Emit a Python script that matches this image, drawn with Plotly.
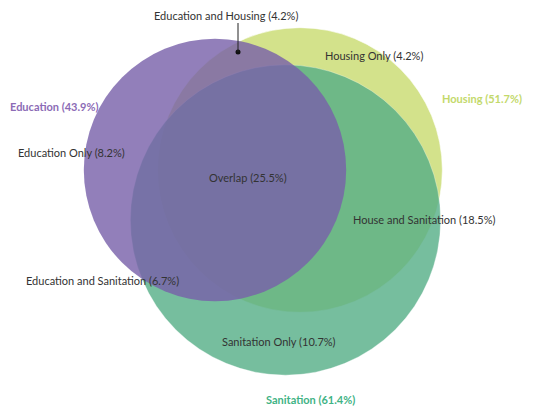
import math
import plotly.graph_objects as go

# Sets and their share of respondents (%)
set_names = ["Housing", "Sanitation", "Education"]
set_values = [51.7, 61.4, 43.9]
set_colors = ["#C9DC6F", "#55AE87", "#7860AA"]
outline_colors = ["rgba(255,255,255,0.6)", "rgba(255,255,255,0.35)", "rgba(0,0,0,0)"]
label_colors = ["#C3D96B", "#3FB385", "#8C6BB6"]

# Region labels and their shares (%)
region_names = ["Education Only", "Housing Only", "Sanitation Only",
                "Education and Housing", "Education and Sanitation",
                "House and Sanitation", "Overlap"]
region_values = [8.2, 4.2, 10.7, 4.2, 6.7, 18.5, 25.5]

# Layout of the diagram (plot units = pixels)
W, H = 535, 407
centers = {"Housing": (300, 170), "Sanitation": (285.5, 220), "Education": (215, 170)}
area_scale = 19.8  # radius = scale * sqrt(share)

set_label_pos = {"Housing": (482, 98), "Sanitation": (310, 399), "Education": (54, 106)}
region_label_pos = {
    "Education Only": (71.5, 152),
    "Housing Only": (374, 55),
    "Sanitation Only": (279, 341),
    "Education and Housing": (226, 15),
    "Education and Sanitation": (102, 280),
    "House and Sanitation": (424, 219),
    "Overlap": (248, 177),
}
pointer_target = (238, 52)

fig = go.Figure()
shapes = []
for name, val, col, oc in zip(set_names, set_values, set_colors, outline_colors):
    cx, cy = centers[name]
    r = area_scale * math.sqrt(val)
    shapes.append(dict(type="circle", xref="x", yref="y",
                       x0=cx - r, x1=cx + r, y0=cy - r, y1=cy + r,
                       fillcolor=col, opacity=0.8,
                       line=dict(color=oc, width=1),
                       layer="below"))

# Leader line for the small Education/Housing region
lx, ly = region_label_pos["Education and Housing"]
shapes.append(dict(type="line", xref="x", yref="y",
                   x0=pointer_target[0], x1=pointer_target[0], y0=ly + 8, y1=pointer_target[1],
                   line=dict(color="#222", width=1)))
fig.add_trace(go.Scatter(x=[pointer_target[0]], y=[pointer_target[1]], mode="markers",
                         marker=dict(color="#111", size=5), hoverinfo="skip", showlegend=False))

annotations = []
for name, val, col in zip(set_names, set_values, label_colors):
    x, y = set_label_pos[name]
    annotations.append(dict(x=x, y=y, xref="x", yref="y", showarrow=False,
                            text=f"<b>{name} ({val}%)</b>",
                            font=dict(family="Lato", size=11, color=col)))
for name, val in zip(region_names, region_values):
    x, y = region_label_pos[name]
    annotations.append(dict(x=x, y=y, xref="x", yref="y", showarrow=False,
                            text=f"{name} ({val}%)",
                            font=dict(family="Lato", size=11, color="#333333")))

fig.update_layout(
    width=W, height=H,
    margin=dict(l=0, r=0, t=0, b=0),
    paper_bgcolor="white", plot_bgcolor="white",
    shapes=shapes, annotations=annotations,
    xaxis=dict(range=[0, W], visible=False, fixedrange=True),
    yaxis=dict(range=[H, 0], visible=False, fixedrange=True),
    showlegend=False,
)
fig.write_html("out.html")
